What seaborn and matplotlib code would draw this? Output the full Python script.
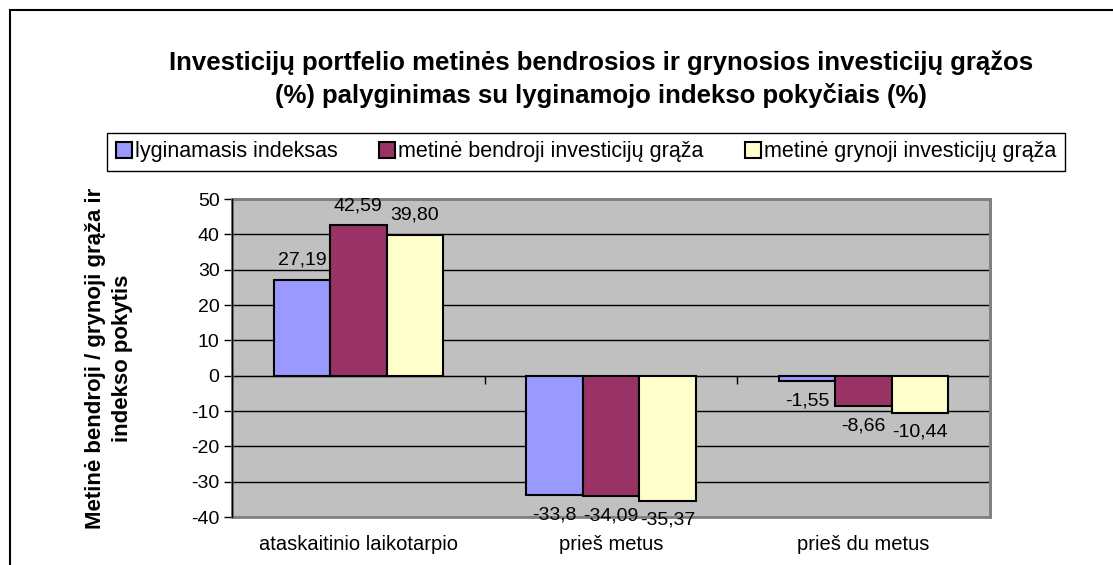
import matplotlib
matplotlib.use("Agg")
import matplotlib.pyplot as plt
from matplotlib.patches import Rectangle
import seaborn as sns
import pandas as pd

# data
categories = ["ataskaitinio laikotarpio", "prieš metus", "prieš du metus"]
series = ["lyginamasis indeksas", "metinė bendroji investicijų grąža", "metinė grynoji investicijų grąža"]
index_vals = [27.19, -33.8, -1.55]
gross_vals = [42.59, -34.09, -8.66]
net_vals = [39.80, -35.37, -10.44]
index_lbls = ["27,19", "-33,8", "-1,55"]
gross_lbls = ["42,59", "-34,09", "-8,66"]
net_lbls = ["39,80", "-35,37", "-10,44"]
yticks = [-40, -30, -20, -10, 0, 10, 20, 30, 40, 50]

colors = ["#9999FF", "#993366", "#FFFFCC"]

df = pd.DataFrame({
    "cat": categories * 3,
    "series": [s for s in series for _ in categories],
    "val": index_vals + gross_vals + net_vals,
})

sns.set_style("white")
plt.rcParams["font.family"] = ["Liberation Sans", "DejaVu Sans"]
plt.rcParams["text.color"] = "black"
plt.rcParams["xtick.color"] = "black"
plt.rcParams["ytick.color"] = "black"
plt.rcParams["axes.labelcolor"] = "black"

W, H = 1113, 565
fig = plt.figure(figsize=(W / 100, H / 100), dpi=100)
ax = fig.add_axes([232 / W, 1 - 517 / H, 758 / W, 318 / H])
ax.set_facecolor("#C0C0C0")

sns.barplot(data=df, x="cat", y="val", hue="series", order=categories,
            hue_order=series, palette=colors, width=0.67, gap=0,
            edgecolor="black", linewidth=1.5, saturation=1, ax=ax, zorder=3)

fs = 14
ax.set_ylim(-40, 50)
ax.set_xlim(-0.5, 2.5)
ax.set_yticks(yticks)
ax.set_yticklabels([str(t) for t in yticks], fontsize=fs)
ax.yaxis.grid(True, color="black", lw=1)
ax.set_axisbelow(True)
ax.tick_params(axis="y", direction="out", length=6, width=1, color="black", left=True, pad=3)
ax.set_xlabel("")
ax.set_ylabel("")

# x axis sits on zero with ticks between categories
ax.spines["bottom"].set_position(("data", 0))
ax.spines["bottom"].set_color("black")
ax.set_xticks([-0.5, 0.5, 1.5, 2.5])
ax.set_xticklabels([])
ax.tick_params(axis="x", direction="out", length=6, width=1, color="black", bottom=True)
ax.spines["left"].set_color("black")
ax.spines["left"].set_linewidth(1)
for s in ["top", "right"]:
    ax.spines[s].set_color("#808080")
    ax.spines[s].set_linewidth(2)
ax.add_patch(Rectangle((0, 0), 1, 1, transform=ax.transAxes, fill=False,
                       edgecolor="#808080", lw=2, zorder=5, clip_on=False))
ax.spines["left"].set_zorder(6)

sec = ax.secondary_xaxis("bottom")
sec.set_xticks(range(len(categories)))
sec.set_xticklabels(categories, fontsize=14.5)
sec.tick_params(length=0, pad=13)
sec.spines["bottom"].set_visible(False)

# value labels
all_lbls = [index_lbls, gross_lbls, net_lbls]
for cont, lbls in zip(ax.containers, all_lbls):
    ax.bar_label(cont, labels=lbls, padding=8, fontsize=fs, zorder=7)

# legend
handles, _ = ax.get_legend_handles_labels()
ax.legend_.remove()
fig.legend(handles, series, loc="center", bbox_to_anchor=(586 / W, 1 - 152 / H),
           ncol=3, fontsize=15.5, frameon=True, fancybox=False, edgecolor="black",
           framealpha=1, handlelength=0.75, handleheight=0.75, handletextpad=0.15,
           columnspacing=1.9, borderpad=0.4)

fig.text(601 / W, 1 - 79 / H,
         "Investicijų portfelio metinės bendrosios ir grynosios investicijų grąžos\n"
         "(%) palyginimas su lyginamojo indekso pokyčiais (%)",
         ha="center", va="center", fontsize=18.5, fontweight="bold", linespacing=1.4)

fig.text(109 / W, 1 - 358 / H, "Metinė bendroji / grynoji grąža ir\nindekso pokytis",
         rotation=90, ha="center", va="center", fontsize=16, fontweight="bold",
         multialignment="center", linespacing=1.35)

fig.add_artist(Rectangle((10 / W, -0.1), 1.2, 1.1 - 10 / H, transform=fig.transFigure,
                         fill=False, edgecolor="black", lw=1.5))

fig.savefig("out.png", dpi=100)
